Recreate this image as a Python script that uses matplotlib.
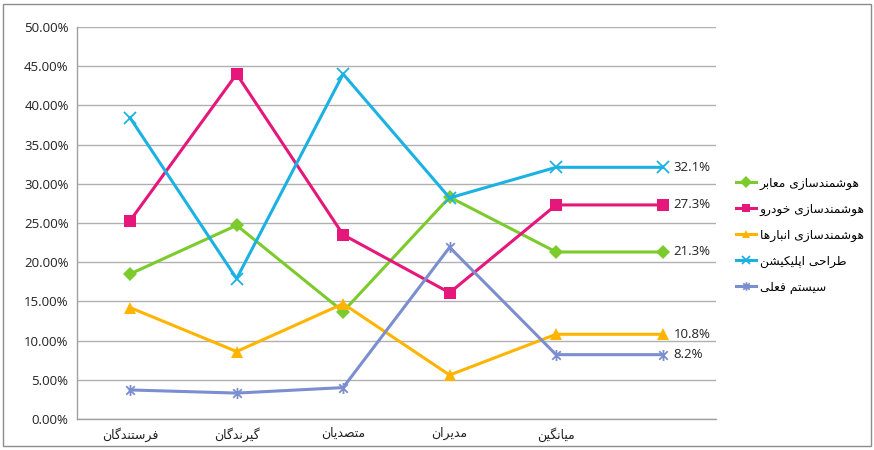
import matplotlib
matplotlib.use("Agg")
import matplotlib.pyplot as plt
from matplotlib.path import Path
from matplotlib.patches import Rectangle

categories = ["فرستندگان", "گیرندگان", "متصدیان", "مدیران", "میانگین", ""]
series_names = ["هوشمندسازی معابر", "هوشمندسازی خودرو", "هوشمندسازی انبارها",
                "طراحی اپلیکیشن", "سیستم فعلی"]
maaber = [18.5, 24.7, 13.7, 28.3, 21.3, 21.3]
khodro = [25.3, 44.0, 23.5, 16.1, 27.3, 27.3]
anbar = [14.2, 8.6, 14.7, 5.6, 10.8, 10.8]
app = [38.4, 17.9, 44.0, 28.2, 32.1, 32.1]
feli = [3.7, 3.3, 4.0, 21.9, 8.2, 8.2]
end_labels = ["21.3%", "27.3%", "10.8%", "32.1%", "8.2%"]
yticks = [0, 5, 10, 15, 20, 25, 30, 35, 40, 45, 50]

# minimal Persian shaping (presentation forms) + reversal for LTR renderer
FORMS = {
    'ا': (0xFE8D, 0xFE8E, None, None), 'ب': (0xFE8F, 0xFE90, 0xFE91, 0xFE92),
    'پ': (0xFB56, 0xFB57, 0xFB58, 0xFB59), 'ت': (0xFE95, 0xFE96, 0xFE97, 0xFE98),
    'ح': (0xFEA1, 0xFEA2, 0xFEA3, 0xFEA4), 'خ': (0xFEA5, 0xFEA6, 0xFEA7, 0xFEA8),
    'د': (0xFEA9, 0xFEAA, None, None), 'ر': (0xFEAD, 0xFEAE, None, None),
    'ز': (0xFEAF, 0xFEB0, None, None), 'س': (0xFEB1, 0xFEB2, 0xFEB3, 0xFEB4),
    'ش': (0xFEB5, 0xFEB6, 0xFEB7, 0xFEB8), 'ص': (0xFEB9, 0xFEBA, 0xFEBB, 0xFEBC),
    'ط': (0xFEC1, 0xFEC2, 0xFEC3, 0xFEC4), 'ع': (0xFEC9, 0xFECA, 0xFECB, 0xFECC),
    'ف': (0xFED1, 0xFED2, 0xFED3, 0xFED4), 'ک': (0xFB8E, 0xFB8F, 0xFB90, 0xFB91),
    'گ': (0xFB92, 0xFB93, 0xFB94, 0xFB95), 'ل': (0xFEDD, 0xFEDE, 0xFEDF, 0xFEE0),
    'م': (0xFEE1, 0xFEE2, 0xFEE3, 0xFEE4), 'ن': (0xFEE5, 0xFEE6, 0xFEE7, 0xFEE8),
    'ه': (0xFEE9, 0xFEEA, 0xFEEB, 0xFEEC), 'و': (0xFEED, 0xFEEE, None, None),
    'ی': (0xFBFC, 0xFBFD, 0xFBFE, 0xFBFF),
}


def shape(text):
    out = []
    n = len(text)
    for i, ch in enumerate(text):
        if ch not in FORMS:
            out.append(ch)
            continue
        iso, fin, ini, med = FORMS[ch]
        prev = text[i - 1] if i > 0 else None
        nxt = text[i + 1] if i + 1 < n else None
        join_prev = prev in FORMS and FORMS[prev][2] is not None
        join_next = nxt in FORMS and ini is not None
        if join_prev and join_next:
            code = med
        elif join_prev:
            code = fin
        elif join_next:
            code = ini
        else:
            code = iso
        out.append(chr(code))
    return "".join(reversed(out))


star = Path([(-1, -1), (1, 1), (-1, 1), (1, -1), (0, -1.3), (0, 1.3)],
            [Path.MOVETO, Path.LINETO, Path.MOVETO, Path.LINETO, Path.MOVETO, Path.LINETO])

plt.rcParams['font.family'] = ['Open Sans', 'DejaVu Sans']
fig = plt.figure(figsize=(8.74, 4.5), dpi=100)
ax = fig.add_axes([0.088, 0.069, 0.731, 0.871])

x = list(range(len(categories)))
specs = [
    (maaber, '#7CCB2C', 'D', 7),
    (khodro, '#E6177B', 's', 8),
    (anbar, '#FFB400', '^', 9),
    (app, '#1BB2E3', 'x', 9),
    (feli, '#7B8ECF', star, 8),
]
handles = []
for (vals, col, mk, ms), name, lab in zip(specs, series_names, end_labels):
    if mk == 'x' or isinstance(mk, Path):
        h, = ax.plot(x, vals, color=col, lw=2.2, marker=mk, ms=ms, mew=1.3,
                     mfc='none', mec=col, label=shape(name), clip_on=False)
    else:
        h, = ax.plot(x, vals, color=col, lw=2.2, marker=mk, ms=ms, mew=0,
                     mfc=col, label=shape(name), clip_on=False)
    handles.append(h)
    ax.annotate(lab, (x[-1], vals[-1]), xytext=(8, 0), textcoords='offset points',
                ha='left', va='center', fontsize=9.5, color='#222222',
                family=['Open Sans', 'DejaVu Sans'])

ax.set_xlim(-0.5, len(categories) - 0.5)
ax.set_ylim(0, 50)
ax.set_yticks(yticks)
ax.set_yticklabels([f"{v:.2f}%" for v in yticks], fontsize=9.5, color='#222222')
ax.set_xticks(x)
ax.set_xticklabels([shape(c) for c in categories], fontsize=9, color='#222222',
                   family=['DejaVu Sans'])
ax.tick_params(axis='both', length=0, pad=6)
ax.yaxis.grid(True, color='#B0B0B0', lw=1)
ax.set_axisbelow(True)
for s in ['top', 'right']:
    ax.spines[s].set_visible(False)
for s in ['left', 'bottom']:
    ax.spines[s].set_color('#A0A0A0')
    ax.spines[s].set_linewidth(1)

leg = fig.legend(handles=handles, loc='upper left', bbox_to_anchor=(0.83, 0.632),
                 frameon=False, handlelength=1.6, handletextpad=0.3,
                 labelspacing=1.05, prop={'family': ['DejaVu Sans'], 'size': 8.8})
for h in leg.legend_handles:
    h.set_markersize(6)

fig.patches.append(Rectangle((0.004, 0.008), 0.992, 0.984, transform=fig.transFigure,
                             fill=False, ec='#8C8C8C', lw=1))

fig.savefig("out.png", dpi=100)
